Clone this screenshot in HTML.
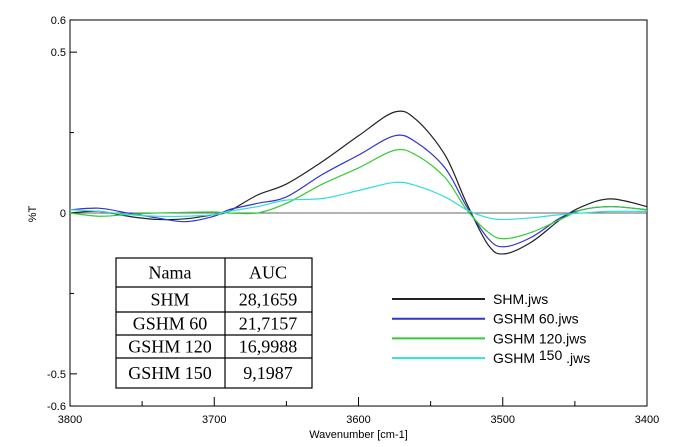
<!DOCTYPE html>
<html><head><meta charset="utf-8"><style>
body{margin:0;background:#fff;}
svg text{font-family:"Liberation Sans",Arial,sans-serif;}
</style></head><body>
<svg id="c" width="688" height="442">
<g id="frame"></g><g id="series"></g>
</svg>
<script>
const wavenumbers=[3800,3780,3760,3740,3720,3700,3690,3670,3650,3625,3600,3575,3560,3540,3525,3510,3499,3480,3460,3445,3425,3400];
const shm=[0.0,0.005,-0.01,-0.02,-0.018,-0.005,0.005,0.056,0.09,0.16,0.24,0.314,0.29,0.18,0.03,-0.1,-0.127,-0.09,-0.02,0.02,0.044,0.02];
const gshm60=[0.01,0.015,0.0,-0.015,-0.027,-0.01,0.01,0.03,0.05,0.12,0.18,0.24,0.22,0.14,0.02,-0.08,-0.105,-0.075,-0.015,0.01,0.02,0.01];
const gshm120=[0.0,-0.01,-0.005,0.0,0.002,0.003,0.0,0.0,0.03,0.09,0.14,0.195,0.18,0.11,0.01,-0.06,-0.08,-0.06,-0.02,0.01,0.02,0.01];
const gshm150=[0.01,0.005,-0.005,-0.01,-0.01,-0.005,0.005,0.02,0.04,0.045,0.07,0.095,0.085,0.05,0.01,-0.015,-0.02,-0.015,-0.005,0.0,0.005,0.005];
const xTicks=[3800,3700,3600,3500,3400];
const yTicks=[0.6,0.5,0,-0.5,-0.6];
const seriesNames=["SHM.jws","GSHM 60.jws","GSHM 120.jws","GSHM 150.jws"];
const tableRows=[["SHM","28,1659"],["GSHM 60","21,7157"],["GSHM 120","16,9988"],["GSHM 150","9,1987"]];
const X=w=>70+(3800-w)*1.4425;
const Y=v=>213-v*321.7;
const NS="http://www.w3.org/2000/svg";
const svg=document.getElementById('c'),fr=document.getElementById('frame'),sg=document.getElementById('series');
function mk(t,a,p){const e=document.createElementNS(NS,t);for(const k in a)e.setAttribute(k,a[k]);(p||fr).appendChild(e);return e;}
let r=mk('rect',{x:70,y:Y(0.6),width:X(3400)-70,height:Y(-0.6)-Y(0.6),fill:'none',stroke:'#000','stroke-width':1});


let z=mk('line',{x1:70,x2:X(3400),y1:Y(0),y2:Y(0),stroke:'#333','stroke-width':0.8});


[3750,3650,3550,3450].forEach(w=>{mk('line',{x1:X(w),x2:X(w),y1:Y(-0.6),y2:Y(-0.6)-5,stroke:'#000'});});
xTicks.forEach(w=>{mk('line',{x1:X(w),x2:X(w),y1:Y(-0.6),y2:Y(-0.6)-9,stroke:'#000'});
 const t=mk('text',{x:X(w),y:Y(-0.6)+17,'font-size':11,'text-anchor':'middle'});t.textContent=w;
 
 });
[0.25,-0.25].forEach(v=>mk('line',{x1:70,x2:74,y1:Y(v),y2:Y(v),stroke:'#000'}));
yTicks.forEach(v=>{mk('line',{x1:70,x2:77,y1:Y(v),y2:Y(v),stroke:'#000'});
 const t=mk('text',{x:66,y:Y(v)+4,'font-size':11,'text-anchor':'end'});t.textContent=v;
 
 });
let xt=mk('text',{x:X(3600),y:438,'font-size':11,'text-anchor':'middle'});xt.textContent='Wavenumber [cm-1]';


let yt=mk('text',{x:36,y:214,'font-size':11,'text-anchor':'middle',transform:'rotate(-90 36 214)'});yt.textContent='%T';


function path(vals){const p=wavenumbers.map((w,i)=>[X(w),Y(vals[i])]);let d='M'+p[0][0]+','+p[0][1];
 for(let i=0;i<p.length-1;i++){const p0=p[Math.max(0,i-1)],p1=p[i],p2=p[i+1],p3=p[Math.min(p.length-1,i+2)];
 d+=' C'+(p1[0]+(p2[0]-p0[0])/6)+','+(p1[1]+(p2[1]-p0[1])/6)+' '+(p2[0]-(p3[0]-p1[0])/6)+','+(p2[1]-(p3[1]-p1[1])/6)+' '+p2[0]+','+p2[1];}return d;}
const all=[shm,gshm60,gshm120,gshm150],cols=['#222','#3333cc','#33cc33','#33dddd'],lnames=['shm-line','gshm60-line','gshm120-line','gshm150-line'];
all.forEach((s,i)=>{const e=mk('path',{d:path(s),fill:'none',stroke:cols[i],'stroke-width':1.2},sg);
 
 
 const ly=299+i*19.7;
 const l=mk('line',{x1:392,x2:485,y1:ly,y2:ly,stroke:cols[i],'stroke-width':2});
 
 
 const t=mk('text',{x:493,y:ly+5,'font-size':14});
 if(i===3){t.innerHTML='GSHM <tspan dy="-3">150</tspan><tspan dy="3"> .jws</tspan>';}else{t.textContent=seriesNames[i];}
 
 });
const tb=mk('g',{});


const rowsY=[258,287,312,335,358,388];
mk('rect',{x:116,y:258,width:196,height:130,fill:'#fff',stroke:'#000','stroke-width':1.2},tb);
mk('line',{x1:225,x2:225,y1:258,y2:388,stroke:'#000','stroke-width':1.2},tb);
rowsY.slice(1,5).forEach(y=>mk('line',{x1:116,x2:312,y1:y,y2:y,stroke:'#000','stroke-width':1.2},tb));
const cells=[["Nama","AUC"]].concat(tableRows);
cells.forEach((rw,i)=>{const cy=(rowsY[i]+rowsY[i+1])/2+6;
 [170,268].forEach((cx,j)=>{const t=mk('text',{x:cx,y:cy,'font-size':18,'text-anchor':'middle'},tb);
 t.style.fontFamily='"Liberation Serif",serif';t.textContent=rw[j];
 
 });});
</script>
</body></html>
